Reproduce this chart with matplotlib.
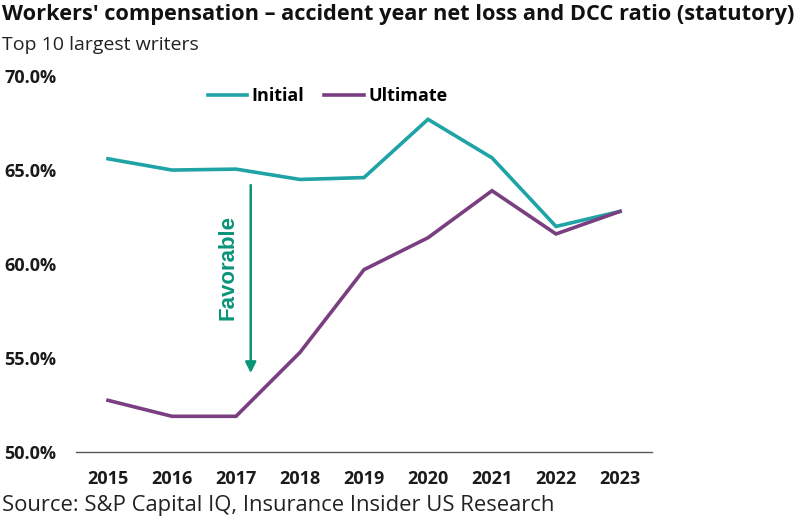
import matplotlib
matplotlib.use("Agg")
import matplotlib.pyplot as plt
from matplotlib.ticker import FuncFormatter

years = ["2015", "2016", "2017", "2018", "2019", "2020", "2021", "2022", "2023"]
initial = [65.6, 65.0, 65.05, 64.5, 64.6, 67.7, 65.65, 62.0, 62.8]
ultimate = [52.75, 51.9, 51.9, 55.3, 59.7, 61.4, 63.9, 61.6, 62.8]

TEAL = "#1fa3a6"
PURPLE = "#7a3f80"
GREEN = "#0a9478"

plt.rcParams['font.family'] = ['Open Sans', 'DejaVu Sans']

fig = plt.figure(figsize=(8, 5.21), dpi=100)
ax = fig.add_axes([0.095, 0.1324, 0.72, 0.7216])

x = list(range(len(years)))
ax.plot(x, initial, color=TEAL, lw=2.6, label="Initial", solid_joinstyle="miter")
ax.plot(x, ultimate, color=PURPLE, lw=2.6, label="Ultimate", solid_joinstyle="miter")

ax.set_xlim(-0.5, len(years) - 0.5)
ax.set_ylim(50, 70)
ax.set_yticks([50, 55, 60, 65, 70])
ax.yaxis.set_major_formatter(FuncFormatter(lambda v, p: f"{v:.1f}%"))
ax.set_xticks(x)
ax.set_xticklabels(years)

for s in ["top", "right", "left"]:
    ax.spines[s].set_visible(False)
ax.spines["bottom"].set_color("#595959")
ax.spines["bottom"].set_linewidth(1.0)
ax.tick_params(axis="both", length=0)
ax.tick_params(axis="y", pad=14)
ax.tick_params(axis="x", pad=13)
for lab in ax.get_xticklabels() + ax.get_yticklabels():
    lab.set_fontweight("bold")
    lab.set_fontsize(13)
    lab.set_color("#1a1a1a")

leg = ax.legend(loc="upper center", bbox_to_anchor=(0.437, 1.013), ncol=2, frameon=False,
                prop={"weight": "bold", "size": 13}, handlelength=2.2, handletextpad=0.25,
                columnspacing=1.1)

# Favorable arrow
ax.annotate("", xy=(2.23, 54.2), xytext=(2.23, 64.2),
            arrowprops=dict(arrowstyle="-|>", color=GREEN, lw=1.8, mutation_scale=16,
                            shrinkA=0, shrinkB=0))
ax.text(1.87, 59.8, "Favorable", rotation=90, color=GREEN, fontsize=16, fontweight="bold",
        ha="center", va="center", family=["Liberation Sans", "DejaVu Sans"])

fig.text(0.003, 0.972, "Workers' compensation \u2013 accident year net loss and DCC ratio (statutory)",
         fontsize=15.7, fontweight="bold", color="#111111", ha="left", va="center")
fig.text(0.003, 0.913, "Top 10 largest writers", fontsize=14, color="#222222", ha="left", va="center")
fig.text(0.003, 0.03, "Source: S&P Capital IQ, Insurance Insider US Research", fontsize=15.8,
         color="#222222", ha="left", va="center")

fig.savefig("out.png", dpi=100)
